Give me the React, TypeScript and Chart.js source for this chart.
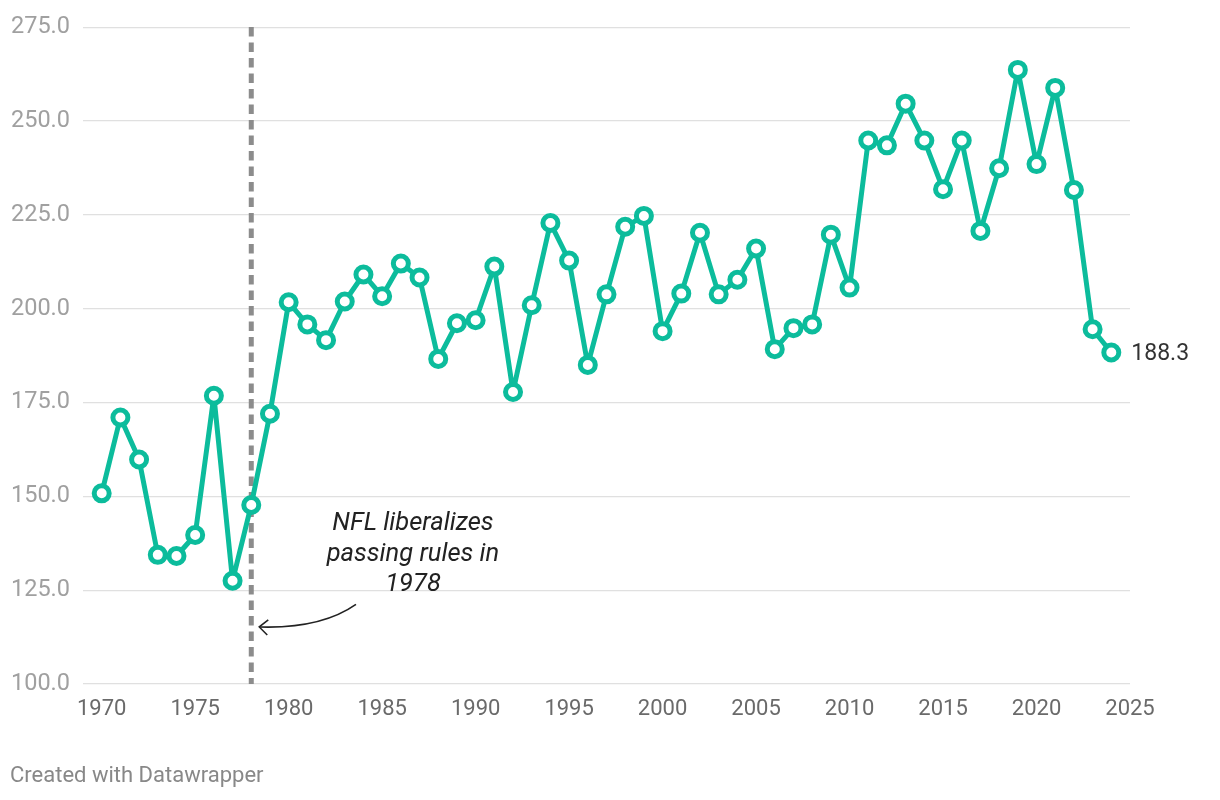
import React, { useEffect, useRef } from "react";
import { Chart, registerables } from "chart.js";

Chart.register(...registerables);

const years: number[] = [
  1970, 1971, 1972, 1973, 1974, 1975, 1976, 1977, 1978, 1979,
  1980, 1981, 1982, 1983, 1984, 1985, 1986, 1987, 1988, 1989,
  1990, 1991, 1992, 1993, 1994, 1995, 1996, 1997, 1998, 1999,
  2000, 2001, 2002, 2003, 2004, 2005, 2006, 2007, 2008, 2009,
  2010, 2011, 2012, 2013, 2014, 2015, 2016, 2017, 2018, 2019,
  2020, 2021, 2022, 2023, 2024,
];

const passingYards: number[] = [
  150.8, 171.0, 159.8, 134.4, 134.1, 139.7, 176.8, 127.5, 147.7, 172.0,
  201.7, 195.8, 191.6, 201.9, 209.1, 203.3, 212.0, 208.3, 186.6, 196.1,
  196.9, 211.2, 177.8, 200.9, 222.8, 212.8, 185.0, 203.8, 221.8, 224.7,
  194.0, 204.0, 220.2, 203.8, 207.7, 216.0, 189.2, 194.8, 195.8, 219.7,
  205.6, 244.8, 243.5, 254.6, 244.8, 231.8, 244.8, 220.7, 237.4, 263.6,
  238.5, 258.8, 231.6, 194.5, 188.3,
];

const xTicks: number[] = [1970, 1975, 1980, 1985, 1990, 1995, 2000, 2005, 2010, 2015, 2020, 2025];
const yTicks: number[] = [100, 125, 150, 175, 200, 225, 250, 275];

const ruleYear = 1978;
const annotationLines: string[] = ["NFL liberalizes", "passing rules in", "1978"];
const footerText = "Created with Datawrapper";

const TEAL = "#0cbc9c";
const FONT = "Roboto, 'Noto Sans', sans-serif";

export default function App() {
  const ref = useRef<HTMLCanvasElement | null>(null);

  useEffect(() => {
    if (!ref.current) return;

    const overlay = {
      id: "overlay",
      beforeDatasetsDraw(chart: any) {
        const ctx = chart.ctx;
        const xs = chart.scales.x;
        const area = chart.chartArea;
        ctx.save();
        const rx = xs.getPixelForValue(ruleYear);
        ctx.strokeStyle = "#8c8c8c";
        ctx.lineWidth = 5;
        ctx.setLineDash([9.5, 6]);
        ctx.beginPath();
        ctx.moveTo(rx, area.top);
        ctx.lineTo(rx, area.bottom);
        ctx.stroke();
        ctx.restore();
      },
      afterDatasetsDraw(chart: any) {
        const ctx = chart.ctx;
        const xs = chart.scales.x;
        const ys = chart.scales.y;
        ctx.save();
        const rx = xs.getPixelForValue(ruleYear);

        // annotation text
        const ax = xs.getPixelForValue(1986.65);
        const ay = ys.getPixelForValue(142.7);
        ctx.fillStyle = "#222";
        ctx.font = `italic 25.5px ${FONT}`;
        ctx.textAlign = "center";
        ctx.textBaseline = "middle";
        annotationLines.forEach((l, i) => ctx.fillText(l, ax, ay + i * 30.5));

        // arrow
        const sx = xs.getPixelForValue(1983.6);
        const sy = ys.getPixelForValue(121.2);
        const ex = rx + 8;
        const ey = ys.getPixelForValue(115.2);
        ctx.strokeStyle = "#222";
        ctx.lineWidth = 1.6;
        ctx.beginPath();
        ctx.moveTo(sx, sy);
        ctx.quadraticCurveTo(sx - 35, ey + 2, ex, ey);
        ctx.stroke();
        ctx.beginPath();
        ctx.moveTo(ex + 9, ey - 7);
        ctx.lineTo(ex, ey);
        ctx.lineTo(ex + 8, ey + 8);
        ctx.stroke();

        // end label
        const last = passingYards.length - 1;
        const lx = xs.getPixelForValue(years[last]);
        const ly = ys.getPixelForValue(passingYards[last]);
        ctx.fillStyle = "#333";
        ctx.font = `23px ${FONT}`;
        ctx.textAlign = "left";
        ctx.fillText(passingYards[last].toFixed(1), lx + 20, ly + 2);

        // footer
        ctx.fillStyle = "#888";
        ctx.font = `22px ${FONT}`;
        ctx.textAlign = "left";
        ctx.fillText(footerText, 10, 776);
        ctx.restore();
      },
    };

    const chart = new Chart(ref.current, {
      type: "line",
      data: {
        datasets: [
          {
            data: years.map((y, i) => ({ x: y, y: passingYards[i] })),
            borderColor: TEAL,
            borderWidth: 5,
            borderJoinStyle: "round",
            borderCapStyle: "round",
            backgroundColor: "#fff",
            pointBackgroundColor: "#fff",
            pointBorderColor: TEAL,
            pointBorderWidth: 5,
            pointRadius: 7.5,
            tension: 0,
          },
        ],
      },
      options: {
        responsive: false,
        animation: false,
        layout: { padding: { top: 23, right: 90, left: 0, bottom: 0 } },
        plugins: { legend: { display: false }, tooltip: { enabled: false } },
        scales: {
          x: {
            type: "linear",
            min: 1969,
            max: 2025,
            afterBuildTicks: (s: any) => {
              s.ticks = xTicks.map((v) => ({ value: v }));
            },
            afterFit: (s: any) => {
              s.height = 116;
            },
            grid: { display: false, drawTicks: false },
            border: { display: false },
            ticks: {
              color: "#6a6a6a",
              font: { family: FONT, size: 22 },
              padding: 12,
              maxRotation: 0,
              autoSkip: false,
              callback: (v: any) => String(v),
            },
          },
          y: {
            min: 100,
            max: 275,
            afterBuildTicks: (s: any) => {
              s.ticks = yTicks.map((v) => ({ value: v }));
            },
            afterFit: (s: any) => {
              s.width = 83;
            },
            grid: { color: "#e0e0e0", lineWidth: 1.2, drawTicks: false },
            border: { display: false },
            ticks: {
              color: "#a0a0a0",
              font: { family: FONT, size: 23.5 },
              padding: 13,
              callback: (v: any) => Number(v).toFixed(1),
            },
          },
        },
      },
      plugins: [overlay],
    } as any);

    return () => chart.destroy();
  }, []);

  return (
    <div style={{ position: "absolute", left: 0, top: 0, width: 1220, height: 800, background: "#fff" }}>
      <canvas ref={ref} width={1220} height={800} style={{ display: "block" }} />
    </div>
  );
}
